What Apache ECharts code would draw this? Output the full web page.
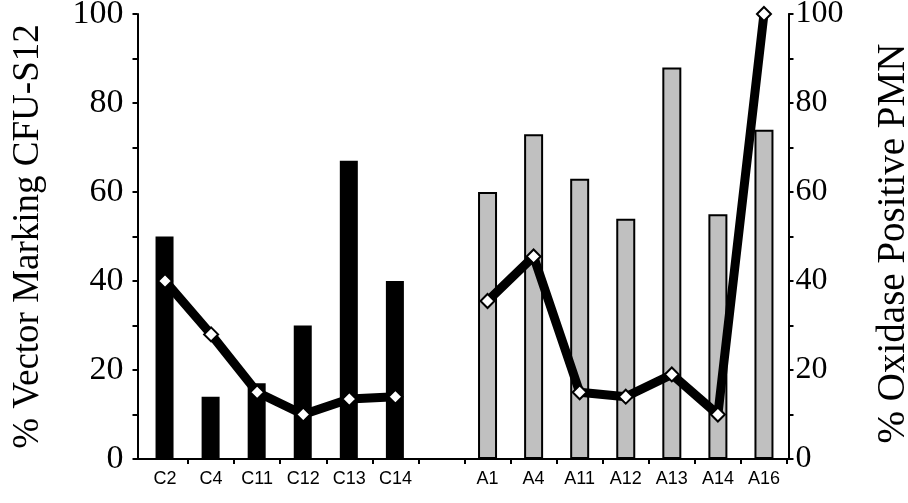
<!DOCTYPE html>
<html>
<head>
<meta charset="utf-8">
<script src="https://cdn.jsdelivr.net/npm/echarts@6/dist/echarts.min.js"></script>
<style>
  html, body { margin: 0; padding: 0; background: #fff; }
  #chart { width: 908px; height: 503px; }
</style>
</head>
<body>
<div id="chart"></div>
<script>
// Samples: control group (C) and treated group (A); one empty slot separates them.
const categories = ['C2', 'C4', 'C11', 'C12', 'C13', 'C14', '', 'A1', 'A4', 'A11', 'A12', 'A13', 'A14', 'A16'];

// % vector marking CFU-S12 (bars, left axis)
const vectorC = [50, 14, 17, 30, 67, 40];
const vectorA = [60, 73, 63, 54, 88, 55, 74];

// % oxidase positive PMN (line, right axis)
const oxidaseC = [40, 28, 15, 10, 13.5, 14];
const oxidaseA = [35.5, 45.5, 15, 14, 19, 10, 100];

// Value axis ticks and labels
const yTicks = { min: 0, max: 100, interval: 20 };

const nC = vectorC.length;
const pad = (arr, before, after) =>
  Array(before).fill(null).concat(arr, Array(after).fill(null));

const barC = pad(vectorC, 0, categories.length - nC);
const barA = pad(vectorA, nC + 1, 0);
const lineData = oxidaseC.concat([null], oxidaseA);

const serif = 'Liberation Serif, Times New Roman, serif';
const sans = 'Liberation Sans, Arial, sans-serif';

const chart = echarts.init(document.getElementById('chart'), null, { renderer: 'canvas' });

const valueAxisCommon = {
  type: 'value',
  min: yTicks.min,
  max: yTicks.max,
  interval: yTicks.interval,
  splitLine: { show: false },
  axisLine: { show: true, lineStyle: { color: '#000', width: 2 } },
  axisTick: { show: true, inside: false, length: 5, lineStyle: { color: '#000', width: 2 } },
  minorTick: { show: true, splitNumber: 2, length: 5, lineStyle: { color: '#000', width: 2 } },
  nameLocation: 'middle',
  nameRotate: 90
};

chart.setOption({
  backgroundColor: '#fff',
  animation: false,
  grid: [
    // frame: the two value axes and the baseline
    { left: 137.5, right: 119.5, top: 14, bottom: 44, containLabel: false, outerBoundsMode: 'none' },
    // plotting area for the categories
    { left: 142, right: 121, top: 14, bottom: 44, containLabel: false, outerBoundsMode: 'none' }
  ],
  xAxis: [
    {
      gridIndex: 0,
      type: 'value',
      min: 0,
      max: 1,
      axisLine: { show: true, onZero: false, lineStyle: { color: '#000', width: 2 } },
      axisTick: { show: false },
      axisLabel: { show: false },
      splitLine: { show: false }
    },
    {
      gridIndex: 1,
      type: 'category',
      data: categories,
      boundaryGap: true,
      axisLine: { show: false },
      axisTick: {
        show: true,
        length: 5,
        interval: (idx) => idx !== 0,
        lineStyle: { color: '#000', width: 2 }
      },
      axisLabel: {
        color: '#000',
        fontFamily: sans,
        fontSize: 18,
        margin: 11,
        interval: 0
      }
    }
  ],
  yAxis: [
    Object.assign({}, valueAxisCommon, {
      gridIndex: 0,
      position: 'left',
      name: '% Vector Marking CFU-S12',
      nameGap: 91,
      nameTextStyle: { color: '#000', fontFamily: serif, fontSize: 37 },
      axisLabel: { color: '#000', fontFamily: serif, fontSize: 34, margin: 14 }
    }),
    Object.assign({}, valueAxisCommon, {
      gridIndex: 0,
      position: 'right',
      name: '% Oxidase Positive PMN',
      nameGap: 86,
      nameTextStyle: { color: '#000', fontFamily: serif, fontSize: 39, padding: [0, 14, 0, 0] },
      axisLabel: { color: '#000', fontFamily: serif, fontSize: 32, margin: 7 }
    }),
    {
      gridIndex: 1, type: 'value', min: yTicks.min, max: yTicks.max, show: false
    },
    {
      gridIndex: 1, type: 'value', min: yTicks.min, max: yTicks.max, position: 'right', show: false
    }
  ],
  series: [
    {
      name: 'Vector marking (C)',
      type: 'bar',
      xAxisIndex: 1,
      yAxisIndex: 2,
      data: barC,
      barWidth: 18,
      barGap: '-100%',
      itemStyle: { color: '#000' },
      z: 2
    },
    {
      name: 'Vector marking (A)',
      type: 'bar',
      xAxisIndex: 1,
      yAxisIndex: 2,
      data: barA,
      barWidth: 19,
      barGap: '-100%',
      itemStyle: { color: '#c0c0c0', borderColor: '#000', borderWidth: 2 },
      z: 2
    },
    {
      name: 'Oxidase positive PMN',
      type: 'line',
      xAxisIndex: 1,
      yAxisIndex: 3,
      data: lineData,
      connectNulls: false,
      clip: false,
      symbol: 'diamond',
      symbolSize: 14,
      showAllSymbol: true,
      lineStyle: { color: '#000', width: 9 },
      itemStyle: { color: '#fff', borderColor: '#000', borderWidth: 2 },
      z: 5
    }
  ]
});
</script>
</body>
</html>
